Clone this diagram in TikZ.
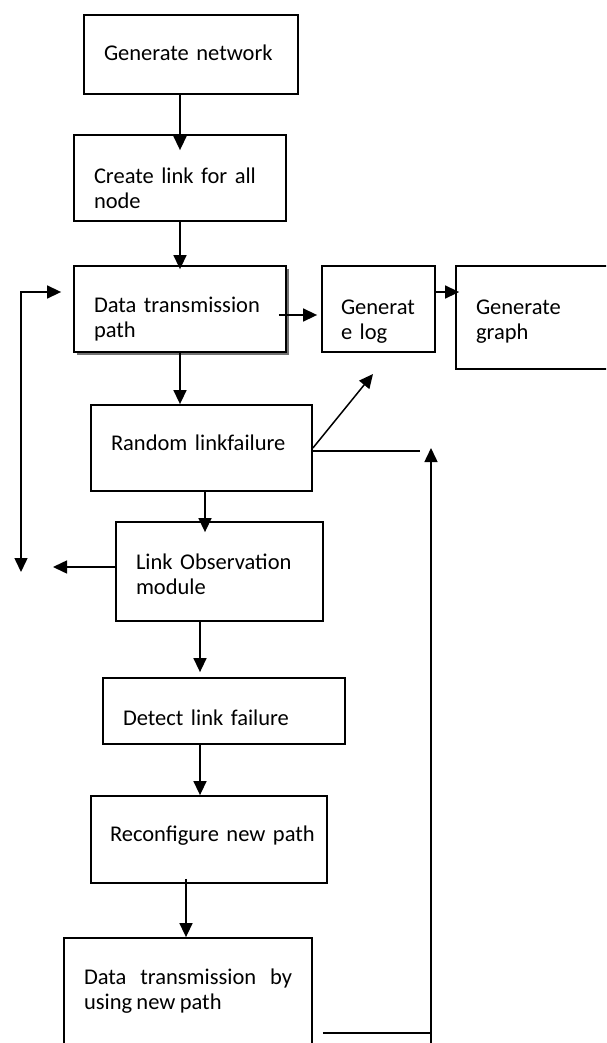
\documentclass[tikz,border=0pt]{standalone}
\usepackage{fontspec}
\setmainfont[WordSpace=0.85]{Carlito}
\usetikzlibrary{arrows.meta,shadows}

\tikzset{
  blk/.style={draw, line width=1.8pt, inner xsep=20pt, inner ysep=0pt, align=left, font=\fontsize{22.5}{25}\selectfont},
  tx/.style 2 args={text height=#1, text depth=#2},
  shadowed/.style={fill=white, drop shadow={shadow xshift=3pt, shadow yshift=-3pt, fill=black!55, opacity=1}},
  arr/.style={line width=1.5pt, -{Triangle[width=13pt,length=14pt]}},
  twoarr/.style={line width=1.5pt, {Triangle[width=13pt,length=14pt]}-{Triangle[width=13pt,length=14pt]}},
  ln/.style={line width=1.5pt}
}

\begin{document}
\begin{tikzpicture}[x=1pt, y=-1pt]
        \useasboundingbox (0,0) rectangle (606,1043);
        \clip (0,0) rectangle (606,1043);

        \node[blk, tx={12pt}{0pt}, text width=174pt, minimum height=79pt] at (191,54.5) (gen) {Generate network};
        \node[blk, tx={10pt}{0pt}, text width=172pt, minimum height=86pt] at (180,178) (lnk) {Create link for all\\node};
        \node[blk, shadowed, tx={7pt}{0pt}, text width=172pt, minimum height=86pt] at (180,309) (dtp) {Data transmission\\path};
        \node[blk, tx={10pt}{0pt}, inner xsep=19pt, text width=75pt, minimum height=86pt] at (378.5,309) (glog) {\mbox{Generat}\\e log};
        \node[blk, tx={0pt}{7pt}, text width=130pt, minimum height=103pt] at (541,317.5) (ggr) {Generate\\graph};
        \node[blk, tx={5pt}{0pt}, text width=181pt, minimum height=86pt] at (201.5,448) (rlf) {Random linkfailure};
        \node[blk, tx={0pt}{5pt}, text width=167pt, minimum height=99pt] at (219.5,571.5) (lom) {Link Observation\\module};
        \node[blk, tx={28pt}{0pt}, text width=202pt, minimum height=66pt] at (224,711) (dlf) {Detect link failure};
        \node[blk, tx={3pt}{0pt}, inner xsep=19pt, text width=198pt, minimum height=87pt] at (209,839.5) (rnp) {\mbox{Reconfigure new path}};
        \node[blk, tx={0pt}{22pt}, align=justify, text width=208pt, minimum height=114pt] at (188,995) (dtn) {Data transmission by using new path};

        \coordinate (logpt) at (373,374);
        \coordinate (rend) at (420,451);
        \coordinate (lomout) at (53,567);
        \coordinate (fbot) at (21,572);
        \coordinate (ftop) at (21,292);
        \coordinate (rbot) at (431,1045);
        \coordinate (rjoin) at (431,1033);
        \coordinate (rtop) at (431,448);

        \draw[arr, shorten >=-16pt] (gen.south -| lnk.north) -- (lnk.north);
        \draw[arr, shorten >=-4pt] (lnk.south) -- (dtp.north);
        \draw[arr, shorten >=4pt] ([xshift=-8pt, yshift=-6pt]dtp.east) -- ([yshift=-6pt]glog.west);
        \draw[arr, shorten >=-4pt] ([yshift=17pt]glog.east) -- ([yshift=17pt]glog.east -| ggr.west);
        \draw[arr] (dtp.south) -- (dtp.south |- rlf.north);

        \draw[arr] (rlf.east) -- (logpt);
        \draw[ln] ([yshift=-3pt]rlf.east) -- (rend);
        \draw[arr, shorten >=-11pt] ([xshift=3.5pt]rlf.south) -- ([xshift=3.5pt]rlf.south |- lom.north);
        \draw[arr] ([yshift=4.5pt]lom.west) -- (lomout);
        \draw[twoarr] (fbot) -- (ftop) -- ([xshift=-12pt]dtp.west |- ftop);

        \draw[arr, shorten >=5pt] ([xshift=-19.5pt]lom.south) -- ([xshift=-19.5pt]lom.south |- dlf.north);
        \draw[arr] ([xshift=-24pt]dlf.south) -- ([xshift=-24pt]dlf.south |- rnp.north);
        \draw[arr] ([xshift=-23pt, yshift=5pt]rnp.south) -- ([xshift=-23pt]rnp.south |- dtn.north);

        \draw[ln] ([xshift=10pt, yshift=-38pt]dtn.east) -- (rjoin);
        \draw[arr] (rbot) -- (rtop);

    \end{tikzpicture}
\end{document}
